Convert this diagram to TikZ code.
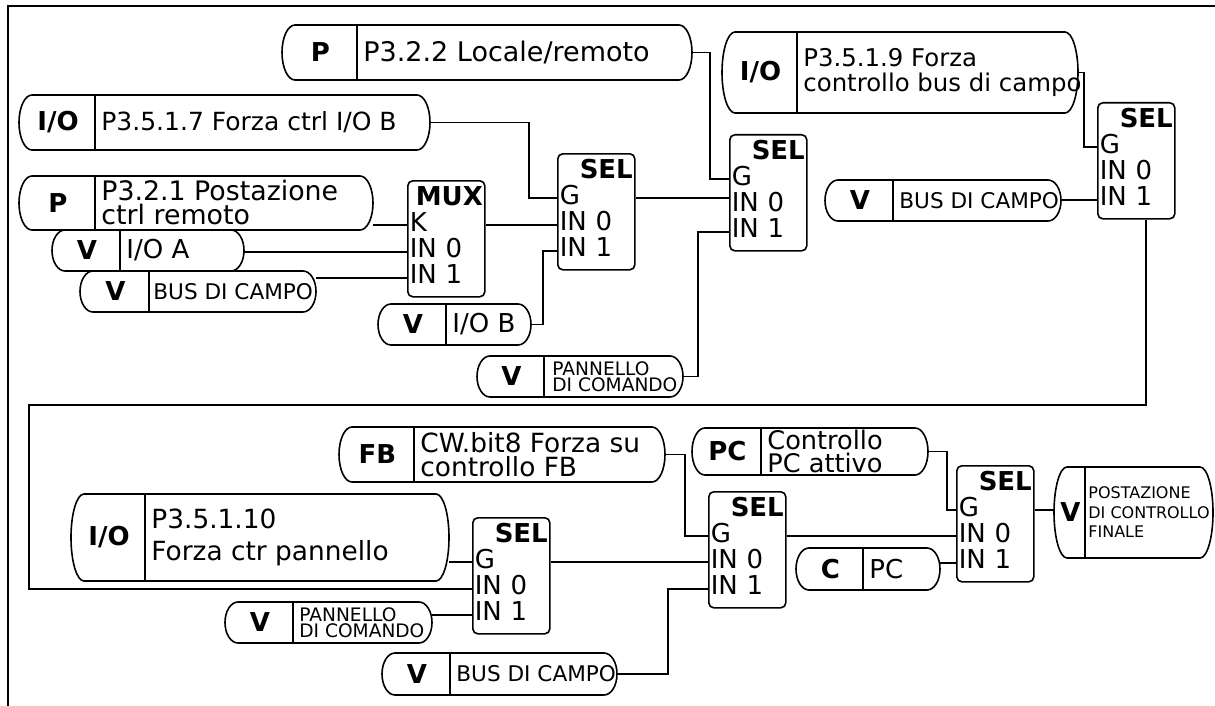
\documentclass[tikz,border=0pt]{standalone}
\usepackage{fontspec}
\setmainfont{DejaVu Sans}
\usetikzlibrary{backgrounds,calc}

\tikzset{
  wire/.style={line width=0.85pt},
  pillline/.style={line width=0.8pt},
  pillarea/.style={inner sep=0pt, outer sep=0pt},
  tagtext/.style={inner sep=0pt, font=\bfseries\fontsize{13}{13}\selectfont},
  pilltext/.style={anchor=west, inner sep=3pt, align=left, font=\fontsize{13}{13}\selectfont},
  smalltext/.style={font=\fontsize{10.8}{10.8}\selectfont},
  paneltext/.style={font=\fontsize{9.3}{8}\selectfont},
  finaltext/.style={font=\fontsize{8}{9.75}\selectfont, inner sep=1.5pt},
  blockbox/.style={draw, line width=0.8pt, fill=white, rounded corners=2.5pt, anchor=north west,
    minimum width=38.5pt, minimum height=58pt, text width=36.5pt, inner sep=1pt, align=left,
    font=\fontsize{13}{13}\selectfont},
}

% source pill: name, left x, divider x, right x, top y, bottom y, tag, text style, text
\newcommand{\pill}[9]{%
  \node[pillarea, minimum width={(#4-#2)*0.5pt}, minimum height={(#6-#5)*0.5pt}] (#1) at ({(#2+#4)/2},{-(#5+#6)/2}) {};
  \draw[pillline, fill=white] (#2+13,-#5) -- (#4-13,-#5)
    arc[start angle=90, end angle=-90, x radius=6.5pt, y radius={(#6-#5)*0.25pt}]
    -- (#2+13,-#6)
    arc[start angle=270, end angle=90, x radius=6.5pt, y radius={(#6-#5)*0.25pt}] -- cycle;
  \draw[pillline] (#3,-#5) -- (#3,-#6);
  \node[tagtext] (#1-tag) at ({(#2+#3)/2+1},{-(#5+#6)/2}) {#7};
  \node[pilltext, #8] (#1-txt) at (#3,{-(#5+#6)/2}) {#9};
}

% SEL / MUX block: name, left x, top y, title, first input
\newcommand{\selblock}[5]{%
  \node[blockbox] (#1) at (#2,-#3) {\hskip0pt plus 1filll\textbf{#4}\hspace*{2.5pt}\\#5\\IN 0\\IN 1\rule[-4pt]{0pt}{4pt}};
  \coordinate (#1-a) at ([yshift=-22.5pt]#1.north west);
  \coordinate (#1-b) at ([yshift=-36pt]#1.north west);
  \coordinate (#1-c) at ([yshift=-49pt]#1.north west);
  \coordinate (#1-o) at ([yshift=-22.5pt]#1.north east);
}

\begin{document}
\begin{tikzpicture}[x=0.5pt, y=0.5pt]
  \useasboundingbox (0,0) rectangle (1215,-706);
  % frame
  \draw[wire] (8,-706) -- (8,-6) -- (1215,-6);

  % upper part
  \pill{p322}{282}{357}{692}{25}{80}{P}{font=\fontsize{13.5}{13.5}\selectfont}{P3.2.2 Locale/remoto}
  \pill{io517}{19}{95}{430}{95}{150}{I/O}{font=\fontsize{12.5}{12.5}\selectfont}{P3.5.1.7 Forza ctrl I/O B}
  \pill{p321}{19}{95}{373}{176}{230}{P}{font=\fontsize{13.4}{12}\selectfont}{P3.2.1 Postazione\\ctrl remoto}
  \pill{vioa}{52}{120}{244}{230}{271}{V}{}{I/O A}
  \pill{vbus1}{80}{149}{316}{271}{312}{V}{smalltext, inner sep=2pt}{BUS DI CAMPO}
  \pill{viob}{378}{446}{531}{304}{345}{V}{}{I/O B}
  \pill{vpan1}{477}{544}{683}{356}{397}{V}{paneltext, inner sep=4pt}{PANNELLO\\DI COMANDO}
  \pill{io519}{722}{797}{1078}{32}{113}{I/O}{font=\fontsize{12.2}{12.5}\selectfont}{P3.5.1.9 Forza\\controllo bus di campo}
  \pill{vbus2}{825}{893}{1061}{180}{221}{V}{smalltext}{BUS DI CAMPO}

  \selblock{mux}{407}{180}{MUX}{K}
  \selblock{sel1}{557}{153}{SEL}{G}
  \selblock{sel2}{729}{134}{SEL}{G}
  \selblock{sel3}{1097}{102}{SEL}{G}

  % lower part
  \pill{io5110}{71}{145}{449}{494}{581}{I/O}{font=\fontsize{13.2}{16}\selectfont}{P3.5.1.10\\Forza ctr pannello}
  \pill{fb}{339}{414}{665}{427}{482}{FB}{font=\fontsize{13.2}{12}\selectfont}{CW.bit8 Forza su\\controllo FB}
  \pill{vpan2}{225}{293}{432}{602}{643}{V}{paneltext}{PANNELLO\\DI COMANDO}
  \pill{vbus3}{382}{450}{617}{653}{695}{V}{smalltext}{BUS DI CAMPO}
  \pill{pc}{692}{761}{928}{428}{475}{PC}{font=\fontsize{12.8}{11.5}\selectfont}{Controllo\\PC attivo}
  \pill{cpc}{796}{863}{940}{548}{590}{C}{}{PC}
  \pill{vfin}{1054}{1085}{1213}{467}{558}{V}{finaltext}{POSTAZIONE\\DI CONTROLLO\\FINALE}

  \selblock{sel4}{472}{517}{SEL}{G}
  \selblock{sel5}{708}{491}{SEL}{G}
  \selblock{sel6}{956}{465}{SEL}{G}

  \coordinate (fbk) at (29,-405);

  % wires
  \begin{scope}[on background layer]
    \draw[wire] (p322.east) -| ([xshift=-9.5pt]sel2-a) -- (sel2-a);
    \draw[wire] (io517.east) -| ([xshift=-14pt]sel1-a) -- (sel1-a);
    \draw[wire] (mux-a) -- (mux-a -| p321.east);
    \draw[wire] (mux-b) -- (mux-b -| vioa.east);
    \draw[wire] (mux-c) -- (mux-c -| vbus1.east);
    \draw[wire] (mux-o) -- (sel1-b);
    \draw[wire] (viob.east) -| ([xshift=-7pt]sel1-c) -- (sel1-c);
    \draw[wire] (sel1-o) -- (sel1-o -| sel2.west);
    \draw[wire] (vpan1.east) -| ([xshift=-15.5pt]sel2-c) -- (sel2-c);
    \draw[wire] (io519.east) -| ([xshift=-6.5pt]sel3-a) -- (sel3-a);
    \draw[wire] (sel3-c) -- (sel3-c -| vbus2.east);
    \draw[wire] ([xshift=5pt]sel3.south) |- (fbk) |- (sel4-b);
    \draw[wire] (sel4-a) -- (sel4-a -| io5110.east);
    \draw[wire] (sel4-c) -- (sel4-c -| vpan2.east);
    \draw[wire] (sel4-o) -- (sel4-o -| sel5.west);
    \draw[wire] (fb.east) -| ([xshift=-11.5pt]sel5-a) -- (sel5-a);
    \draw[wire] (vbus3.east) -| ([xshift=-20pt]sel5-c) -- (sel5-c);
    \draw[wire] (sel5-o) -- (sel5-o -| sel6.west);
    \draw[wire] (pc.east) -| ([xshift=-4.5pt]sel6-a) -- (sel6-a);
    \draw[wire] (sel6-c) -- (sel6-c -| cpc.east);
    \draw[wire] (sel6-o) -- (sel6-o -| vfin.west);
  \end{scope}
\end{tikzpicture}
\end{document}
